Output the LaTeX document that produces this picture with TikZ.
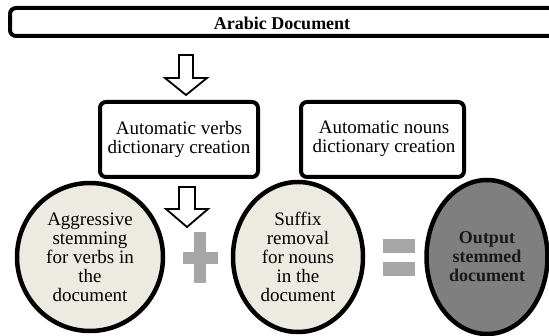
\documentclass[tikz,border=0pt]{standalone}
\usepackage{fontspec}
\setmainfont{Liberation Serif}
\usetikzlibrary{shapes.geometric}
\definecolor{paleback}{HTML}{EDEBE1}
\definecolor{darkfill}{HTML}{7F7F7F}
\definecolor{signgray}{HTML}{A6A6A6}
\begin{document}
\begin{tikzpicture}[x=1pt,y=-1pt,
  every node/.style={font=\fontsize{19}{19}\selectfont},
  boldtext/.style={font=\fontsize{18}{19}\selectfont\bfseries},
  roundbox/.style={draw=black,line width=4pt,rounded corners=6pt,fill=white,inner sep=0pt},
  stage/.style={ellipse,draw=black,line width=4.5pt,align=center,inner sep=0pt},
  hollowarrow/.style={draw=black,line width=1.8pt,fill=white,line join=miter},
  sign/.style={fill=signgray,draw=none}]
\useasboundingbox (0,0) rectangle (549,336);

% input document banner
\draw[roundbox] (10,8) rectangle (560,36);
\node[boldtext] (input) at (282,23) {Arabic Document};

% dictionary creation boxes
\draw[roundbox] (100,102) rectangle (258,177);
\node[align=center] (verbs) at (179,139) {Automatic verbs\\dictionary creation};
\draw[roundbox] (301,102) rectangle (464,177);
\node[align=center] (nouns) at (384,139) {Automatic nouns\\dictionary creation};

% hollow down arrows
\draw[hollowarrow] (179,55) -- (193,55) -- (193,78) -- (207,78) -- (186,95)
  -- (165,78) -- (179,78) -- cycle;
\draw[hollowarrow] (179,187) -- (195,187) -- (195,209) -- (208,209) -- (187,227)
  -- (166,209) -- (179,209) -- cycle;

% processing stages
\node[stage,fill=paleback,minimum width=146pt,minimum height=148pt] (verbstem) at (90,257)
  {Aggressive\\stemming\\for verbs in\\the\\document};
\node[stage,fill=paleback,minimum width=130pt,minimum height=150pt] (nounstem) at (298,257)
  {Suffix\\removal\\for nouns\\in the\\document};
\node[stage,fill=darkfill,minimum width=121pt,minimum height=154pt,
  boldtext,text=black!90] (result) at (487,257)
  {Output\\stemmed\\document};

% plus and equals signs
\fill[sign] (194,232) rectangle (206,283);
\fill[sign] (183,252) rectangle (218,264);
\fill[sign] (383,239) rectangle (415,253);
\fill[sign] (383,262) rectangle (415,276);
\end{tikzpicture}
\end{document}
